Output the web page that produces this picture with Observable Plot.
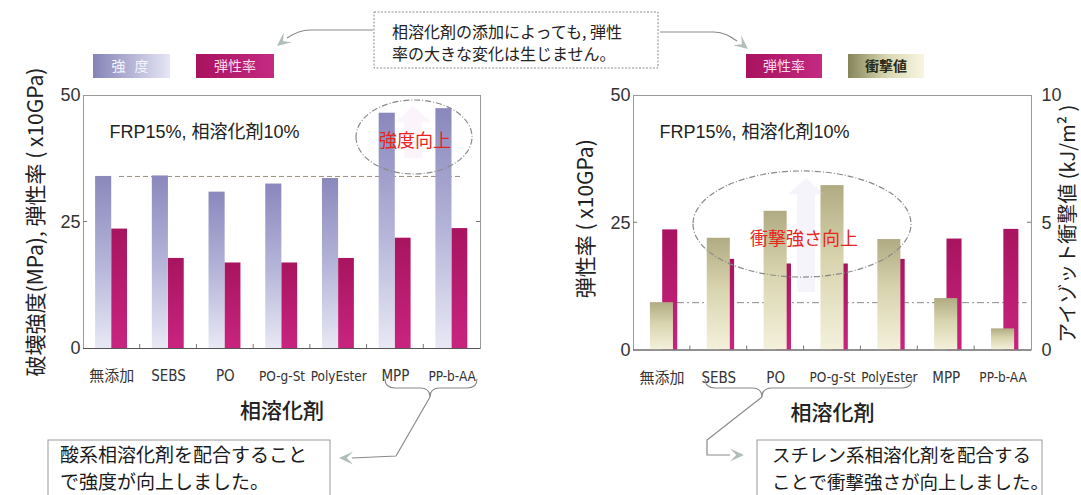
<!DOCTYPE html>
<html>
<head>
<meta charset="utf-8">
<script src="https://cdn.jsdelivr.net/npm/d3@7"></script>
<script src="https://cdn.jsdelivr.net/npm/@observablehq/plot@0.6"></script>
<style>
  html, body { margin: 0; padding: 0; background: #fff; }
  #chart { position: relative; width: 1081px; height: 495px; overflow: hidden; background: #fff; }
  #chart > svg { position: absolute; left: 0; top: 0; }
</style>
</head>
<body>
<div id="chart"></div>
<script>
// Compatibilizer types (x axis)
const categories = ["無添加", "SEBS", "PO", "PO-g-St", "PolyEster", "MPP", "PP-b-AA"];
// Breaking strength (MPa)
const strength = [34.0, 34.1, 30.9, 32.5, 33.6, 46.5, 47.4];
// Elastic modulus (x10 GPa)
const modulus = [23.6, 17.8, 16.9, 16.9, 17.8, 21.8, 23.7];
// Izod impact value (kJ/m²)
const impact = [1.86, 4.39, 5.45, 6.46, 4.34, 2.02, 0.83];
// Axis ticks
const leftTicks = [0, 25, 50];
const impactTicks = [0, 5, 10];

const rows = categories.map((category, i) => ({
  category, strength: strength[i], modulus: modulus[i], impact: impact[i]
}));

const JP = "'Noto Sans CJK JP', 'Noto Sans', sans-serif";
const NUM = "'Liberation Sans', Arial, 'Noto Sans CJK JP', sans-serif";
const NARROW = "'Liberation Sans Narrow', 'DejaVu Sans Condensed', 'Noto Sans CJK JP', sans-serif";

const chart = d3.select("#chart");

// Shared gradient definitions for bars and legend swatches
const defs = chart.append("svg").attr("width", 0).attr("height", 0).append("defs");
function gradient(id, stops, horizontal = false) {
  const g = defs.append("linearGradient").attr("id", id)
    .attr("x1", 0).attr("y1", 0)
    .attr("x2", horizontal ? 1 : 0).attr("y2", horizontal ? 0 : 1);
  for (const [o, c] of stops) g.append("stop").attr("offset", o).attr("stop-color", c);
}
gradient("g-strength", [[0, "#8a88bc"], [0.5, "#b4b3d8"], [1, "#e8e8f5"]]);
gradient("g-modulus", [[0, "#a8145f"], [1, "#c8247f"]]);
gradient("g-impact", [[0, "#b0ab82"], [0.45, "#d8d4ae"], [1, "#f4f1dc"]]);
gradient("g-leg-strength", [[0, "#8583b6"], [1, "#e6e6f5"]], true);
gradient("g-leg-modulus", [[0, "#a8125e"], [1, "#c42a82"]], true);
gradient("g-leg-impact", [[0, "#86845a"], [0.5, "#d8d6ae"], [1, "#f8f6e2"]], true);

// Small inward ticks on the frame: at given y values on both sides, and between categories at the bottom
function frameTicks(yValues) {
  return (index, scales, values, dimensions) => {
    const {width, height, marginLeft, marginRight, marginBottom} = dimensions;
    const g = d3.create("svg:g").attr("stroke", "#777").attr("stroke-width", 1);
    const x0 = marginLeft, x1 = width - marginRight, yb = height - marginBottom;
    for (const v of yValues) {
      const y = scales.y(v);
      g.append("line").attr("x1", x0).attr("x2", x0 + 4).attr("y1", y).attr("y2", y);
      g.append("line").attr("x1", x1 - 4).attr("x2", x1).attr("y1", y).attr("y2", y);
    }
    for (const c of categories.slice(1)) {
      const x = scales.x(c);
      g.append("line").attr("x1", x).attr("x2", x).attr("y1", yb).attr("y2", yb - 4);
    }
    return g.node();
  };
}

const baseStyle = {background: "transparent", overflow: "visible", fontFamily: JP, color: "#333"};
// category labels under the bars; the longer names are set a little smaller
const xLabels = () => Plot.text(categories, {x: d => d, frameAnchor: "bottom", dy: 28,
  lineAnchor: "middle", fontSize: d => (d.length > 6 ? 13.5 : 15), fontFamily: NARROW, fill: "#333"});
const subtitle = () => Plot.text(["FRP15%, 相溶化剤10%"], {frameAnchor: "top-left", dx: 26, dy: 37,
  lineAnchor: "middle", fontSize: 18, fontFamily: NUM, fill: "#222"});
const xTitle = () => Plot.text(["相溶化剤"], {frameAnchor: "bottom", dy: 63, lineAnchor: "middle",
  fontSize: 21, fontWeight: 500, fontFamily: JP, fill: "#222"});

// ---- Left panel: strength and elastic modulus ----
const left = Plot.plot({
  width: 540, height: 495,
  marginLeft: 83, marginRight: 60, marginTop: 95, marginBottom: 147,
  style: baseStyle,
  x: {domain: categories, padding: 0, round: false, axis: null},
  y: {domain: [0, 50]},
  marks: [
    Plot.frame({stroke: "#9a9a9a"}),
    Plot.ruleY([strength[0]], {stroke: "#9c8f80", strokeDasharray: "5,3", insetLeft: 36, insetRight: 17}),
    Plot.barY(rows, {x: "category", y: "strength", fill: "url(#g-strength)", insetLeft: 12.1, insetRight: 28.5}),
    Plot.barY(rows, {x: "category", y: "modulus", fill: "url(#g-modulus)", insetLeft: 28.3, insetRight: 12.7}),
    Plot.ruleY([0], {stroke: "#555"}),
    frameTicks([25]),
    Plot.axisY({ticks: leftTicks, anchor: "left", tickSize: 0, tickPadding: 3, fontSize: 18,
      fontFamily: NUM, fill: "#333", label: null}),
    xLabels(),
    subtitle(),
    xTitle(),
    Plot.text(["破壊強度(MPa), 弾性率 ( x10GPa)"], {frameAnchor: "left", rotate: -90, dx: -47.5,
      textAnchor: "middle", lineAnchor: "middle", fontSize: 21, fontFamily: JP, fill: "#222"})
  ]
});
chart.node().append(left);

// ---- Right panel: elastic modulus (left axis) and impact value (right axis) ----
const rightDims = {width: 541, height: 495, marginLeft: 93, marginRight: 50, marginTop: 95, marginBottom: 145.5};

// reference line for the untreated impact value, kept beneath the bars
const rightRef = Plot.plot({
  ...rightDims, style: baseStyle,
  x: {domain: categories, padding: 0, round: false, axis: null},
  y: {domain: [0, 10], axis: null},
  marks: [
    Plot.ruleY([impact[0]], {stroke: "#8a8a8a", strokeDasharray: "7,3,2,3", insetLeft: 44, insetRight: 4.5})
  ]
});
const rightBase = Plot.plot({
  ...rightDims, style: baseStyle,
  x: {domain: categories, padding: 0, round: false, axis: null},
  y: {domain: [0, 50]},
  marks: [
    Plot.frame({stroke: "#9a9a9a"}),
    Plot.barY(rows, {x: "category", y: "modulus", fill: "url(#g-modulus)", insetLeft: 29.2, insetRight: 12.6}),
    frameTicks([25]),
    Plot.axisY({ticks: leftTicks, anchor: "left", tickSize: 0, tickPadding: 3, fontSize: 18,
      fontFamily: NUM, fill: "#333", label: null}),
    xLabels(),
    subtitle(),
    xTitle(),
    Plot.text(["弾性率 ( x10GPa)"], {frameAnchor: "left", rotate: -90, dx: -47.5, dy: -4,
      textAnchor: "middle", lineAnchor: "middle", fontSize: 21, fontFamily: JP, fill: "#222"})
  ]
});
const rightImpact = Plot.plot({
  ...rightDims, style: baseStyle,
  x: {domain: categories, padding: 0, round: false, axis: null},
  y: {domain: [0, 10]},
  marks: [
    Plot.barY(rows, {x: "category", y: "impact", fill: "url(#g-impact)", insetLeft: 16.9, insetRight: 16.9}),
    Plot.ruleY([0], {stroke: "#555"}),
    Plot.axisY({ticks: impactTicks, anchor: "right", tickSize: 0, tickPadding: 10, fontSize: 18,
      fontFamily: NUM, fill: "#333", label: null}),
    Plot.text(["アイゾット衝撃値 (kJ/m² )"], {frameAnchor: "right", rotate: -90, dx: 37, dy: 1,
      textAnchor: "middle", lineAnchor: "middle", fontSize: 20, fontFamily: JP, fill: "#222"})
  ]
});
for (const svg of [rightRef, rightBase, rightImpact]) {
  svg.style.left = "540px";
  chart.node().append(svg);
}

// ---- Annotation layer: legends, callouts, highlight ellipses, braces and arrows ----
const ann = chart.append("svg").attr("width", 1081).attr("height", 495)
  .style("pointer-events", "none").attr("font-family", JP);

function legendSwatch(x, y, w, h, fill, label, color, weight = 400, spacing = 0) {
  ann.append("rect").attr("x", x).attr("y", y).attr("width", w).attr("height", h).attr("fill", fill);
  ann.append("text").attr("x", x + w / 2).attr("y", y + h / 2).attr("dy", "0.35em")
    .attr("text-anchor", "middle").attr("font-size", 14).attr("font-weight", weight)
    .attr("letter-spacing", spacing).attr("fill", color).text(label);
}
legendSwatch(93, 54, 77, 24, "url(#g-leg-strength)", "強 度", "#f4f4ff", 400, 3);
legendSwatch(196, 54, 78, 24, "url(#g-leg-modulus)", "弾性率", "#f8dcec");
legendSwatch(746, 54, 76, 24, "url(#g-leg-modulus)", "弾性率", "#f8dcec");
legendSwatch(848, 54, 76, 24, "url(#g-leg-impact)", "衝撃値", "#2a2a1a", 700);

function arrowHead(tip, angle) {
  const len = 14, half = 6.5;
  const [tx, ty] = tip;
  const c = Math.cos(angle), s = Math.sin(angle);
  const bx = tx - len * c, by = ty - len * s;
  const nx = tx - len * 0.55 * c, ny = ty - len * 0.55 * s;
  const px = -s * half, py = c * half;
  ann.append("path")
    .attr("d", `M${tx},${ty}L${bx + px},${by + py}L${nx},${ny}L${bx - px},${by - py}Z`)
    .attr("fill", "#b1bdb9");
}
const line = (d, dash) => ann.append("path").attr("d", d).attr("fill", "none")
  .attr("stroke", "#8a8a8a").attr("stroke-width", 1.2).attr("stroke-dasharray", dash || null);

// faint upward arrows behind the highlight labels
function faintArrow(cx, top, bottom, w, fill) {
  const hw = w / 2, head = w * 0.9;
  ann.append("path")
    .attr("d", `M${cx},${top}L${cx + w},${top + head}L${cx + hw},${top + head}L${cx + hw},${bottom}L${cx - hw},${bottom}L${cx - hw},${top + head}L${cx - w},${top + head}Z`)
    .attr("fill", fill).attr("opacity", 0.28);
}
faintArrow(413, 106, 158, 18, "#efd6ee");
faintArrow(806, 178, 292, 18, "#dcd6f0");

// top callout
ann.append("rect").attr("x", 374).attr("y", 12).attr("width", 284).attr("height", 56)
  .attr("fill", "#fff").attr("stroke", "#8a8a8a").attr("stroke-dasharray", "2,1.5");
ann.append("text").attr("x", 392).attr("y", 38).attr("font-size", 16).attr("fill", "#222")
  .text("相溶化剤の添加によっても, 弾性");
ann.append("text").attr("x", 392).attr("y", 60).attr("font-size", 16).attr("fill", "#222")
  .text("率の大きな変化は生じません。");
line("M373,30 L310,30 C300,30 293,34 287,38");
arrowHead([277, 46], Math.atan2(8, -10));
line("M660,32 L714,32 C724,32 731,37 737,41");
arrowHead([748, 49], Math.atan2(8, 10));

// highlight ellipses
line("M356,137 A58,37 0 1,0 472,137 A58,37 0 1,0 356,137", "6,2,1,2");
line("M693,224 A109,53 0 1,0 911,224 A109,53 0 1,0 693,224", "6,2,1,2");
ann.append("text").attr("x", 415).attr("y", 141).attr("dy", "0.35em").attr("text-anchor", "middle")
  .attr("font-size", 18).attr("fill", "#e6261c").text("強度向上");
ann.append("text").attr("x", 804).attr("y", 239).attr("dy", "0.35em").attr("text-anchor", "middle")
  .attr("font-size", 18).attr("fill", "#e6261c").text("衝撃強さ向上");

// braces under the grouped compatibilizers
line("M385,379 Q385,388 395,388 L420,388 Q430,388 430,397 Q430,388 440,388 L467,388 Q477,388 477,379");
line("M705,379 Q705,388 715,388 L752,388 Q762,388 762,397 Q762,388 772,388 L902,388 Q912,388 912,379");

// bottom notes
ann.append("rect").attr("x", 48).attr("y", 440).attr("width", 282).attr("height", 70)
  .attr("fill", "#fff").attr("stroke", "#9a9a9a");
ann.append("text").attr("x", 60).attr("y", 462).attr("font-size", 19).attr("fill", "#1a1a1a")
  .text("酸系相溶化剤を配合すること");
ann.append("text").attr("x", 60).attr("y", 489).attr("font-size", 19).attr("fill", "#1a1a1a")
  .text("で強度が向上しました。");
ann.append("rect").attr("x", 757).attr("y", 440).attr("width", 285).attr("height", 70)
  .attr("fill", "#fff").attr("stroke", "#9a9a9a");
ann.append("text").attr("x", 772).attr("y", 462).attr("font-size", 18.5).attr("fill", "#1a1a1a")
  .text("スチレン系相溶化剤を配合する");
ann.append("text").attr("x", 772).attr("y", 489).attr("font-size", 18.5).attr("fill", "#1a1a1a")
  .text("ことで衝撃強さが向上しました。");

line("M430,397 L396,456 L352,458");
arrowHead([339, 458], Math.PI);
line("M762,397 L707,440 L707,455 L730,455");
arrowHead([744, 455], 0);
</script>
</body>
</html>
